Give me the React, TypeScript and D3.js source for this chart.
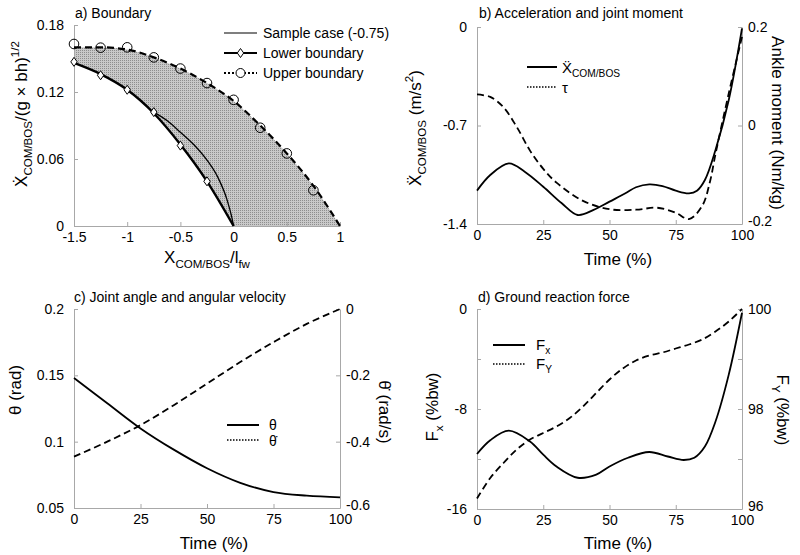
import * as d3 from 'd3';
import { useEffect, useRef } from 'react';

// a) boundary
const boundaryX = [-1.5, -1.25, -1, -0.75, -0.5, -0.25, 0, 0.25, 0.5, 0.75, 1];
const upperLine = [0.160, 0.160, 0.158, 0.151, 0.141, 0.128, 0.112, 0.090, 0.065, 0.036, 0];
const lowerLineX = [-1.5, -1.25, -1, -0.75, -0.5, -0.25, 0];
const lowerLine = [0.146, 0.136, 0.122, 0.101, 0.073, 0.040, 0];
const upperMarkX = [-1.5, -1.25, -1, -0.75, -0.5, -0.25, 0, 0.25, 0.5, 0.75];
const upperMarks = [0.163, 0.1597, 0.160, 0.151, 0.141, 0.128, 0.113, 0.088, 0.065, 0.032];
const lowerMarkX = [-1.5, -1.25, -1, -0.75, -0.5, -0.25];
const lowerMarks = [0.147, 0.135, 0.122, 0.102, 0.072, 0.040];
const sampleX = [-0.75, -0.62, -0.5, -0.375, -0.25, -0.15, -0.06, -0.02, 0];
const sampleY = [0.102, 0.094, 0.084, 0.073, 0.059, 0.044, 0.023, 0.009, 0];

// b) acceleration and joint moment
const accT = [0, 5, 12, 18, 25, 32, 38, 44, 50, 56, 60, 65, 70, 75, 80, 83, 86, 90, 95, 100];
const acc = [-1.163, -1.052, -0.969, -1.028, -1.135, -1.253, -1.336, -1.30, -1.241, -1.182, -1.139, -1.118, -1.13, -1.163, -1.182, -1.163, -1.087, -0.874, -0.519, -0.01];
const tauT = [0, 5, 10, 15, 20, 25, 30, 40, 50, 60, 68, 75, 80, 85, 88, 90, 95, 100];
const tau = [0.063, 0.058, 0.037, -0.003, -0.051, -0.088, -0.116, -0.153, -0.170, -0.171, -0.167, -0.177, -0.190, -0.163, -0.112, -0.058, 0.065, 0.18];

// c) joint angle and angular velocity
const thetaT = [0, 12.5, 25, 37.5, 50, 62.5, 75, 87.5, 100];
const theta = [0.148, 0.129, 0.110, 0.094, 0.080, 0.069, 0.062, 0.0593, 0.058];
const thetaDot = [-0.445, -0.40, -0.35, -0.29, -0.225, -0.16, -0.10, -0.045, 0];

// d) ground reaction force
const fxT = [0, 5, 12, 20, 25, 30, 38, 45, 50, 57, 65, 72, 78, 82, 86, 90, 95, 100];
const fx = [-11.6, -10.5, -9.73, -10.6, -11.65, -12.6, -13.5, -13.25, -12.6, -11.9, -11.44, -11.8, -12.08, -11.9, -11.0, -9.0, -5.25, -0.3];
const fyT = [0, 5, 10, 15, 20, 25, 30, 35, 40, 45, 50, 55, 60, 65, 70, 75, 80, 85, 90, 95, 100];
const fy = [96.21, 96.62, 96.92, 97.19, 97.39, 97.52, 97.65, 97.82, 98.05, 98.32, 98.59, 98.81, 98.97, 99.07, 99.13, 99.21, 99.29, 99.39, 99.55, 99.75, 100];

const timeTicks = [0, 25, 50, 75, 100];

const FONT = '"Liberation Sans", Arial, sans-serif';
const AXIS = '#a8a8a8';
const DASH = '7,4';

type Part = [string, 'sub' | 'sup' | null];

const App = () => {
    const ref = useRef<SVGSVGElement | null>(null);

    useEffect(() => {
        if (!ref.current) return;
        const svg = d3.select(ref.current);
        svg.selectAll('*').remove();

        const pat = svg.append('defs').append('pattern')
            .attr('id', 'stipple').attr('width', 2).attr('height', 2)
            .attr('patternUnits', 'userSpaceOnUse');
        pat.append('rect').attr('width', 2).attr('height', 2).attr('fill', '#c9c9c9');
        pat.append('rect').attr('width', 1).attr('height', 1).attr('fill', '#8e8e8e');

        const fmt = (d: any) => String(d);
        const smooth = d3.curveCatmullRom.alpha(0.5);

        const styleAxis = (g: any) => {
            g.attr('font-size', 14).attr('font-family', FONT);
            g.select('.domain').attr('stroke', AXIS);
            g.selectAll('.tick line').attr('stroke', AXIS);
            g.selectAll('.tick text').attr('fill', '#000');
        };

        // lowest right-axis label sits a little higher so it clears the x tick label
        const liftBottom = (g: any) => {
            g.selectAll('.tick text').filter((_d: any, i: number) => i === 0).attr('dy', '0.1em');
        };

        // sub/superscripts via dy, returning to the baseline after each one
        const richText = (x: number, y: number, parts: Part[], size: number, rotate = 0, anchor = 'middle') => {
            const t = svg.append('text')
                .attr('font-family', FONT)
                .attr('text-anchor', anchor)
                .attr('transform', `translate(${x},${y}) rotate(${rotate})`);
            let shift = 0;
            parts.forEach(([s, kind]) => {
                const ts = t.append('tspan').text(s);
                let target = 0;
                if (kind === 'sub') { ts.attr('font-size', size * 0.68); target = size * 0.28; }
                else if (kind === 'sup') { ts.attr('font-size', size * 0.68); target = -size * 0.45; }
                else ts.attr('font-size', size);
                ts.attr('dy', target - shift);
                shift = target;
            });
            return t;
        };

        const title = (x: number, y: number, s: string) => {
            svg.append('text').attr('x', x).attr('y', y)
                .attr('font-family', FONT).attr('font-size', 14).text(s);
        };

        const path = (data: [number, number][], x: any, y: any, width: number, dash: string | null, curve: any = d3.curveMonotoneX) => {
            svg.append('path')
                .datum(data)
                .attr('fill', 'none')
                .attr('stroke', '#000')
                .attr('stroke-width', width)
                .attr('stroke-dasharray', dash)
                .attr('d', d3.line<[number, number]>().x(d => x(d[0])).y(d => y(d[1])).curve(curve));
        };

        const zip = (a: number[], b: number[]) => a.map((v, i) => [v, b[i]] as [number, number]);

        const legendLine = (x1: number, x2: number, y: number, dotted: boolean) => {
            svg.append('line').attr('x1', x1).attr('x2', x2).attr('y1', y).attr('y2', y)
                .attr('stroke', '#000')
                .attr('stroke-width', dotted ? 1.5 : 2)
                .attr('stroke-dasharray', dotted ? '1.5,1.5' : null);
        };

        // ---------- a) Boundary ----------
        const xa = d3.scaleLinear().domain([-1.5, 1]).range([74, 340]);
        const ya = d3.scaleLinear().domain([0, 0.18]).range([226, 25]);

        svg.append('path').datum(zip(boundaryX, upperLine))
            .attr('fill', 'url(#stipple)')
            .attr('d', d3.area<[number, number]>().x(d => xa(d[0])).y0(ya(0)).y1(d => ya(d[1])).curve(d3.curveMonotoneX));
        svg.append('path').datum(zip(lowerLineX, lowerLine))
            .attr('fill', '#fff')
            .attr('d', d3.area<[number, number]>().x(d => xa(d[0])).y0(ya(0) + 1).y1(d => ya(d[1])).curve(d3.curveMonotoneX));

        svg.append('g').attr('transform', `translate(0,${ya(0)})`)
            .call(d3.axisBottom(xa).tickValues([-1.5, -1, -0.5, 0, 0.5, 1]).tickFormat(fmt).tickSizeInner(-4).tickSizeOuter(0).tickPadding(6))
            .call(styleAxis);
        svg.append('g').attr('transform', `translate(${xa(-1.5)},0)`)
            .call(d3.axisLeft(ya).tickValues([0, 0.06, 0.12, 0.18]).tickFormat(fmt).tickSizeInner(-4).tickSizeOuter(0).tickPadding(10))
            .call(styleAxis);

        path(zip(sampleX, sampleY), xa, ya, 1.3, null);
        path(zip(lowerLineX, lowerLine), xa, ya, 2.4, null);
        path(zip(boundaryX, upperLine), xa, ya, 2.2, DASH);

        svg.append('g').selectAll('path')
            .data(zip(lowerMarkX, lowerMarks))
            .enter().append('path')
            .attr('transform', d => `translate(${xa(d[0])},${ya(d[1])})`)
            .attr('d', 'M0,-4.5L3.2,0L0,4.5L-3.2,0Z')
            .attr('fill', '#fff').attr('stroke', '#000').attr('stroke-width', 1);
        svg.append('g').selectAll('circle')
            .data(zip(upperMarkX, upperMarks))
            .enter().append('circle')
            .attr('cx', d => xa(d[0])).attr('cy', d => ya(d[1])).attr('r', 4.8)
            .attr('fill', 'none').attr('stroke', '#000').attr('stroke-width', 1);

        // legend a
        const legA = [
            { label: 'Sample case (-0.75)', w: 1.2, dash: null as string | null, mark: '' },
            { label: 'Lower boundary', w: 2.2, dash: null, mark: 'd' },
            { label: 'Upper boundary', w: 2, dash: '2,2', mark: 'o' },
        ];
        legA.forEach((l, i) => {
            const yy = 33 + i * 20;
            svg.append('line').attr('x1', 224).attr('x2', 257).attr('y1', yy).attr('y2', yy)
                .attr('stroke', '#000').attr('stroke-width', l.w).attr('stroke-dasharray', l.dash);
            if (l.mark === 'd') svg.append('path').attr('transform', `translate(240.5,${yy})`)
                .attr('d', 'M0,-4.5L3.2,0L0,4.5L-3.2,0Z').attr('fill', '#fff').attr('stroke', '#000');
            if (l.mark === 'o') svg.append('circle').attr('cx', 240.5).attr('cy', yy).attr('r', 4.5)
                .attr('fill', '#fff').attr('stroke', '#000');
            svg.append('text').attr('x', 263).attr('y', yy + 5).attr('font-family', FONT).attr('font-size', 14).text(l.label);
        });

        title(75, 18, 'a) Boundary');
        richText(207, 263, [['X', null], ['COM/BOS', 'sub'], ['/l', null], ['fw', 'sub']], 17);
        richText(27, 114, [['X\u0307', null], ['COM/BOS', 'sub'], ['/(g \u00d7 bh)', null], ['1/2', 'sup']], 17, -90);

        // ---------- b) Acceleration ----------
        const xb = d3.scaleLinear().domain([0, 100]).range([477, 742]);
        const yb = d3.scaleLinear().domain([-1.4, 0]).range([224, 27]);
        const yb2 = d3.scaleLinear().domain([-0.2, 0.2]).range([224, 27]);

        svg.append('g').attr('transform', `translate(0,224)`)
            .call(d3.axisBottom(xb).tickValues(timeTicks).tickFormat(fmt).tickSizeInner(-4).tickSizeOuter(0).tickPadding(6))
            .call(styleAxis);
        svg.append('g').attr('transform', `translate(477,0)`)
            .call(d3.axisLeft(yb).tickValues([-1.4, -0.7, 0]).tickFormat(fmt).tickSizeInner(-4).tickSizeOuter(0).tickPadding(10))
            .call(styleAxis);
        svg.append('g').attr('transform', `translate(742,0)`)
            .call(d3.axisRight(yb2).tickValues([-0.2, 0, 0.2]).tickFormat(fmt).tickSizeInner(-4).tickSizeOuter(0).tickPadding(6))
            .call(styleAxis).call(liftBottom);

        path(zip(tauT, tau), xb, yb2, 1.8, DASH, smooth);
        path(zip(accT, acc), xb, yb, 1.8, null, smooth);

        legendLine(527, 557, 67, false);
        legendLine(527, 557, 87, true);
        richText(562, 73, [['X\u0308', null], ['COM/BOS', 'sub']], 15, 0, 'start');
        richText(562, 93, [['\u03c4', null]], 15, 0, 'start');

        title(479, 18, 'b) Acceleration and joint moment');
        richText(618, 265, [['Time (%)', null]], 17);
        richText(421, 128, [['X\u0308', null], ['COM/BOS', 'sub'], [' (m/s', null], ['2', 'sup'], [')', null]], 17, -90);
        richText(772, 123, [['Ankle moment (Nm/kg)', null]], 17, 90);

        // ---------- c) Joint angle ----------
        const xc = d3.scaleLinear().domain([0, 100]).range([74, 340]);
        const yc = d3.scaleLinear().domain([0.05, 0.2]).range([508, 309]);
        const yc2 = d3.scaleLinear().domain([-0.6, 0]).range([508, 309]);

        svg.append('g').attr('transform', `translate(0,508)`)
            .call(d3.axisBottom(xc).tickValues(timeTicks).tickFormat(fmt).tickSizeInner(-4).tickSizeOuter(0).tickPadding(6))
            .call(styleAxis);
        svg.append('g').attr('transform', `translate(74,0)`)
            .call(d3.axisLeft(yc).tickValues([0.05, 0.1, 0.15, 0.2]).tickFormat(fmt).tickSizeInner(-4).tickSizeOuter(0).tickPadding(10))
            .call(styleAxis);
        svg.append('g').attr('transform', `translate(340,0)`)
            .call(d3.axisRight(yc2).tickValues([-0.6, -0.4, -0.2, 0]).tickFormat(fmt).tickSizeInner(-4).tickSizeOuter(0).tickPadding(6))
            .call(styleAxis).call(liftBottom);

        path(zip(thetaT, thetaDot), xc, yc2, 1.8, DASH, smooth);
        path(zip(thetaT, theta), xc, yc, 1.8, null, smooth);

        legendLine(227, 259, 425, false);
        legendLine(227, 259, 440, true);
        richText(269, 430, [['\u03b8', null]], 14, 0, 'start');
        richText(269, 446, [['\u03b8\u0307', null]], 14, 0, 'start');

        title(74, 302, 'c) Joint angle and angular velocity');
        richText(214, 549, [['Time (%)', null]], 17);
        richText(21, 390, [['\u03b8 (rad)', null]], 17, -90);
        richText(379, 412, [['\u03b8\u0307 (rad/s)', null]], 17, 90);

        // ---------- d) Ground reaction force ----------
        const xd = d3.scaleLinear().domain([0, 100]).range([477, 742]);
        const yd = d3.scaleLinear().domain([-16, 0]).range([509, 309]);
        const yd2 = d3.scaleLinear().domain([96, 100]).range([509, 309]);

        svg.append('g').attr('transform', `translate(0,509)`)
            .call(d3.axisBottom(xd).tickValues(timeTicks).tickFormat(fmt).tickSizeInner(-4).tickSizeOuter(0).tickPadding(6))
            .call(styleAxis);
        svg.append('g').attr('transform', `translate(477,0)`)
            .call(d3.axisLeft(yd).tickValues([-16, -12, -8, -4, 0]).tickFormat((d: any) => (d % 8 === 0 ? String(d) : '')).tickSizeInner(-4).tickSizeOuter(0).tickPadding(10))
            .call(styleAxis);
        svg.append('g').attr('transform', `translate(742,0)`)
            .call(d3.axisRight(yd2).tickValues([96, 97, 98, 99, 100]).tickFormat((d: any) => (d % 2 === 0 ? String(d) : '')).tickSizeInner(-4).tickSizeOuter(0).tickPadding(6))
            .call(styleAxis).call(liftBottom);

        path(zip(fyT, fy), xd, yd2, 1.8, DASH, smooth);
        path(zip(fxT, fx), xd, yd, 1.8, null, smooth);

        legendLine(493, 525, 345, false);
        legendLine(493, 525, 364, true);
        richText(536, 350, [['F', null], ['x', 'sub']], 15, 0, 'start');
        richText(536, 369, [['F', null], ['Y', 'sub']], 15, 0, 'start');

        title(478, 302, 'd) Ground reaction force');
        richText(618, 549, [['Time (%)', null]], 17);
        richText(438, 407, [['F', null], ['x', 'sub'], [' (%bw)', null]], 17, -90);
        richText(777, 410, [['F', null], ['Y', 'sub'], [' (%bw)', null]], 17, 90);
    }, []);

    return (
        <svg ref={ref} width={800} height={555}
            style={{ position: 'absolute', left: 0, top: 0, background: '#fff' }} />
    );
};

export default App;
